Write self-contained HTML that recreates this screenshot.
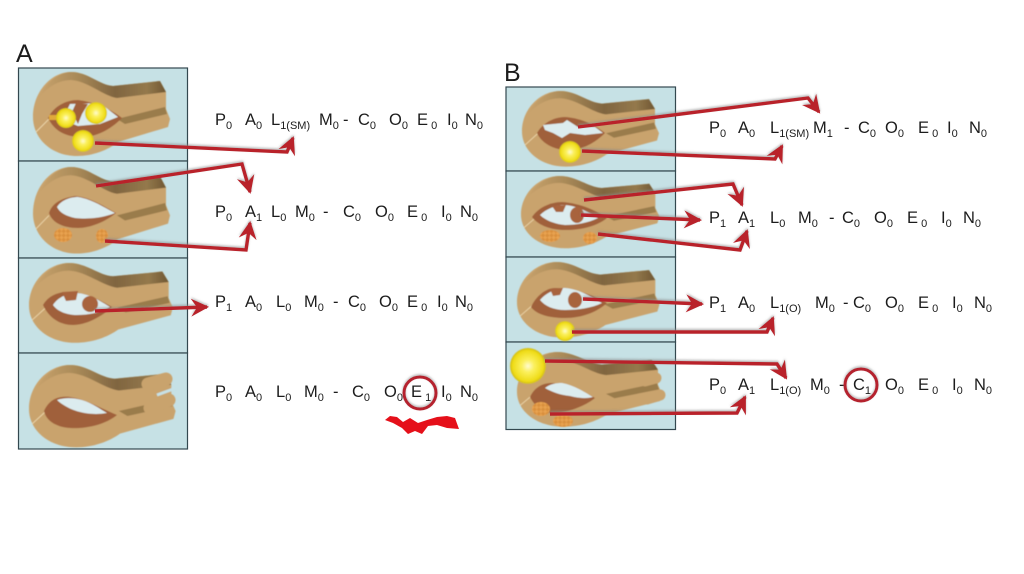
<!DOCTYPE html>
<html><head><meta charset="utf-8"><style>
html,body{margin:0;padding:0;background:#fff}
svg{display:block}
text{font-family:"Liberation Sans",sans-serif;font-size:16.5px;fill:#1c1c1c}
tspan{font-size:11px}
.lb{font-size:25px}
.pn{fill:#c6e1e5;stroke:#33484f;stroke-width:1.2}
.ar{fill:none;stroke:#b9202c;stroke-width:3.4;stroke-linejoin:miter;marker-end:url(#h);filter:url(#sh)}
.br{fill:#a0603a}
.hl{fill:#dcecef}
.lo{fill:#a8643e}
</style></head><body>
<svg width="1024" height="574" viewBox="0 0 1024 574" xmlns="http://www.w3.org/2000/svg">
<defs>
<marker id="h" markerUnits="userSpaceOnUse" markerWidth="24" markerHeight="24" viewBox="-18 -12 24 24" refX="1" refY="0" orient="auto"><path d="M-15,-9 L3,0 L-15,9 L-9,0Z" fill="#b9202c"/></marker>
<filter id="sh" filterUnits="userSpaceOnUse" x="0" y="0" width="1024" height="574"><feDropShadow dx="0" dy="-1.4" stdDeviation="1" flood-color="#8a8a8a" flood-opacity=".6"/></filter>
<filter id="b" filterUnits="userSpaceOnUse" x="0" y="0" width="1024" height="574"><feGaussianBlur stdDeviation=".5"/></filter>
<linearGradient id="w" x1="0" x2="1" y1="0" y2="0"><stop offset="0" stop-color="#c9a36d"/><stop offset=".3" stop-color="#a98a58"/><stop offset=".6" stop-color="#806540"/><stop offset=".85" stop-color="#94794c"/><stop offset="1" stop-color="#6f5733"/></linearGradient>
<radialGradient id="y" cx=".5" cy=".5" r=".5"><stop offset="0" stop-color="#fffbd0"/><stop offset=".35" stop-color="#fbf05c"/><stop offset=".85" stop-color="#efdc18"/><stop offset="1" stop-color="#d0bb1a"/></radialGradient>
<pattern id="o" width="6" height="6" patternUnits="userSpaceOnUse" patternTransform="rotate(45)"><rect width="6" height="6" fill="#e8a24f"/><rect width="3" height="3" fill="#d98f3c"/><rect x="3" y="3" width="3" height="3" fill="#d98f3c"/></pattern>
<g id="jaw">
<path d="M0,45 C0,20 18,0 38,0 C55,0 66,13 80,14 L127,9 L133,20 L133,37 L137,47 L135,55 L85,70 C75,78 60,84 44,84 C18,84 0,66 0,45Z" fill="#c9a36d"/>
<path d="M6,26 C13,9 28,0 38,0 C55,0 66,13 80,14 L127,9 L133,20 L84,26 C70,24 55,9 38,8 C26,8 14,15 6,26Z" fill="url(#w)"/>
<path d="M84,47 L132,35 L134,42 L92,52Z" fill="#9a7c4c"/>
<path d="M3,60 L16,47" stroke="#ecd6aa" stroke-width=".9" fill="none"/>
</g>
</defs>
<rect width="1024" height="574" fill="#fff"/>

<rect class="pn" x="18.500" y="68" width="169" height="93"/>
<rect class="pn" x="18.500" y="161" width="169" height="97"/>
<rect class="pn" x="18.500" y="258" width="169" height="95"/>
<rect class="pn" x="18.500" y="353" width="169" height="96"/>
<rect class="pn" x="506" y="87" width="169.500" height="84"/>
<rect class="pn" x="506" y="171" width="169.500" height="86"/>
<rect class="pn" x="506" y="257" width="169.500" height="85"/>
<rect class="pn" x="506" y="342" width="169.500" height="87.500"/>

<g filter="url(#b)">
<!-- A1 -->
<use href="#jaw" transform="translate(33,72)"/>
<path class="br" d="M48,118 C54,106 66,100 78,100 C95,102 112,110 122,118 C110,130 96,137 82,137 C64,137 54,130 48,118Z"/>
<path class="hl" d="M70,104 L100,103 L118,117 L100,124 L78,126 L62,120Z"/>
<path class="br" d="M76,103 L88,104 L82,114 L78,124 L72,112Z"/>
<rect x="49" y="115" width="10" height="5" fill="#e0a93a"/>
<circle cx="66" cy="118" r="10" fill="url(#y)"/><circle cx="96" cy="113" r="11" fill="url(#y)"/><circle cx="83" cy="141" r="11" fill="url(#y)"/>
<!-- A2 -->
<use href="#jaw" transform="translate(33,167) scale(1,1.03)"/>
<path class="br" d="M49,213 C52,203 62,198 75,196 C90,197 105,207 116,213 C105,222 90,228 78,228 C62,228 52,222 49,213Z"/>
<path class="hl" d="M57,207 C62,199 72,197 78,197 C92,199 105,208 115,213 C100,219 85,219 75,218 C66,216 60,213 57,207Z"/>
<ellipse cx="63" cy="235" rx="9" ry="7" fill="url(#o)"/><ellipse cx="102" cy="236" rx="6" ry="7" fill="url(#o)"/>
<!-- A3 -->
<use href="#jaw" transform="translate(29,263) scale(1.05,.95)"/>
<path class="br" d="M43,305 C48,296 58,292 67,292 C85,292 100,300 112,307 C100,318 85,325 73,325 C58,325 48,316 43,305Z"/>
<path class="hl" d="M53,305 C58,297 68,293 77,293 C90,294 102,302 110,307 C100,313 88,315 77,315 C66,315 57,311 53,305Z"/>
<path class="lo" d="M62,292 L78,291 L76,300 L66,301Z"/><ellipse cx="90" cy="304" rx="8" ry="8" class="lo"/>
<!-- A4 -->
<use href="#jaw" transform="translate(29,365) scale(1.07,.98)"/>
<path class="br" d="M44,411 C50,398 60,396 70,397 C85,399 100,408 117,415 C105,425 85,429 70,428 C55,427 46,420 44,411Z"/>
<path class="hl" d="M57,400 C65,397 75,398 82,400 C92,403 100,409 107,413 C90,416 70,412 57,400Z"/>
<path d="M148,384 L166,379 M150,408 L169,400" stroke="#c9a36d" stroke-width="13" stroke-linecap="round" fill="none"/>
<path d="M157,395 L176,388" stroke="#c6e1e5" stroke-width="3" fill="none"/>
<!-- B1 -->
<use href="#jaw" transform="translate(522,91) scale(1,.9)"/>
<path class="br" d="M537,133 C542,124 553,117 565,117 C582,118 596,126 605,133 C595,143 582,150 568,150 C552,150 541,142 537,133Z"/>
<path class="hl" d="M543,125 L563,123 L567,120 L578,127 L595,127 L603,133 L585,135 L570,133 L562,138 L553,133 L545,130Z"/>
<circle cx="570" cy="152" r="11" fill="url(#y)"/>
<!-- B2 -->
<use href="#jaw" transform="translate(521,176) scale(1.01,.86)"/>
<path class="br" d="M532,217 C538,208 550,202 562,202 C580,203 597,211 607,218 C597,226 582,230 565,230 C550,230 538,225 532,217Z"/>
<path class="hl" d="M540,215 C546,209 556,205 565,205 C578,206 590,213 598,218 C588,223 576,225 565,225 C554,224 545,220 540,215Z"/>
<path class="lo" d="M552,206 L566,205 L563,212 L556,212Z"/><ellipse cx="577" cy="215" rx="7" ry="8" class="lo"/>
<ellipse cx="550" cy="236" rx="10" ry="6" fill="url(#o)"/><ellipse cx="590" cy="238" rx="7" ry="6" fill="url(#o)"/>
<!-- B3 -->
<use href="#jaw" transform="translate(517,262) scale(1.04,.9)"/>
<path class="br" d="M531,307 C536,296 546,288 555,288 C575,288 595,296 607,303 C597,312 582,318 565,318 C550,318 537,315 531,307Z"/>
<path class="hl" d="M540,300 C546,293 556,288 565,288 C580,289 593,298 602,303 C592,308 578,310 565,310 C553,310 545,306 540,300Z"/>
<path class="lo" d="M550,289 L563,288 L560,295 L553,296Z"/><ellipse cx="575" cy="300" rx="7" ry="8" class="lo"/>
<circle cx="565" cy="331" r="10" fill="url(#y)"/>
<!-- B4 -->
<use href="#jaw" transform="translate(517,352) scale(1.06,.89)"/>
<path class="br" d="M530,397 C534,388 542,383 552,383 C568,385 585,392 595,398 C585,406 568,413 552,413 C542,413 534,405 530,397Z"/>
<path class="hl" d="M545,388 C550,384 556,383 562,383 C574,385 586,393 593,397 C585,399 578,398 570,396 C560,395 552,392 545,388Z"/>
<path d="M645,381 L656,378 M647,399 L660,395" stroke="#c9a36d" stroke-width="11" stroke-linecap="round" fill="none"/>
<circle cx="528" cy="366" r="18" fill="url(#y)"/>
<ellipse cx="541" cy="409" rx="9" ry="7" fill="url(#o)"/><ellipse cx="563" cy="421" rx="10" ry="6" fill="url(#o)"/>
</g>

<text class="lb" x="16" y="62">A</text>
<text class="lb" x="504" y="81">B</text>

<text x="215" y="125">P<tspan dy="4">0</tspan></text><text x="245" y="125">A<tspan dy="4">0</tspan></text><text x="271" y="125">L<tspan dy="4">1(SM)</tspan></text><text x="319" y="125">M<tspan dy="4">0</tspan></text><text x="343" y="125">-</text><text x="358" y="125">C<tspan dy="4">0</tspan></text><text x="389" y="125">O<tspan dy="4">0</tspan></text><text x="417" y="125">E<tspan dy="4"> 0</tspan></text><text x="447" y="125">I<tspan dy="4">0</tspan></text><text x="465" y="125">N<tspan dy="4">0</tspan></text>
<text x="215" y="217">P<tspan dy="4">0</tspan></text><text x="245" y="217">A<tspan dy="4">1</tspan></text><text x="271" y="217">L<tspan dy="4">0</tspan></text><text x="295" y="217">M<tspan dy="4">0</tspan></text><text x="323" y="217">-</text><text x="343" y="217">C<tspan dy="4">0</tspan></text><text x="375" y="217">O<tspan dy="4">0</tspan></text><text x="407" y="217">E<tspan dy="4"> 0</tspan></text><text x="441" y="217">I<tspan dy="4">0</tspan></text><text x="460" y="217">N<tspan dy="4">0</tspan></text>
<text x="215" y="307">P<tspan dy="4">1</tspan></text><text x="245" y="307">A<tspan dy="4">0</tspan></text><text x="276" y="307">L<tspan dy="4">0</tspan></text><text x="304" y="307">M<tspan dy="4">0</tspan></text><text x="333" y="307">-</text><text x="348" y="307">C<tspan dy="4">0</tspan></text><text x="379" y="307">O<tspan dy="4">0</tspan></text><text x="407" y="307">E<tspan dy="4"> 0</tspan></text><text x="437" y="307">I<tspan dy="4">0</tspan></text><text x="455" y="307">N<tspan dy="4">0</tspan></text>
<text x="215" y="397">P<tspan dy="4">0</tspan></text><text x="245" y="397">A<tspan dy="4">0</tspan></text><text x="276" y="397">L<tspan dy="4">0</tspan></text><text x="304" y="397">M<tspan dy="4">0</tspan></text><text x="333" y="397">-</text><text x="352" y="397">C<tspan dy="4">0</tspan></text><text x="384" y="397">O<tspan dy="4">0</tspan></text><text x="411" y="397">E<tspan dy="4"> 1</tspan></text><text x="441" y="397">I<tspan dy="4">0</tspan></text><text x="460" y="397">N<tspan dy="4">0</tspan></text>
<text x="709" y="133">P<tspan dy="4">0</tspan></text><text x="738" y="133">A<tspan dy="4">0</tspan></text><text x="770" y="133">L<tspan dy="4">1(SM)</tspan></text><text x="813" y="133">M<tspan dy="4">1</tspan></text><text x="844" y="133">-</text><text x="858" y="133">C<tspan dy="4">0</tspan></text><text x="885" y="133">O<tspan dy="4">0</tspan></text><text x="918" y="133">E<tspan dy="4"> 0</tspan></text><text x="947" y="133">I<tspan dy="4">0</tspan></text><text x="969" y="133">N<tspan dy="4">0</tspan></text>
<text x="709" y="223">P<tspan dy="4">1</tspan></text><text x="738" y="223">A<tspan dy="4">1</tspan></text><text x="770" y="223">L<tspan dy="4">0</tspan></text><text x="798" y="223">M<tspan dy="4">0</tspan></text><text x="829" y="223">-</text><text x="842" y="223">C<tspan dy="4">0</tspan></text><text x="874" y="223">O<tspan dy="4">0</tspan></text><text x="907" y="223">E<tspan dy="4"> 0</tspan></text><text x="941" y="223">I<tspan dy="4">0</tspan></text><text x="963" y="223">N<tspan dy="4">0</tspan></text>
<text x="709" y="308">P<tspan dy="4">1</tspan></text><text x="738" y="308">A<tspan dy="4">0</tspan></text><text x="770" y="308">L<tspan dy="4">1(O)</tspan></text><text x="815" y="308">M<tspan dy="4">0</tspan></text><text x="843" y="308">-</text><text x="853" y="308">C<tspan dy="4">0</tspan></text><text x="885" y="308">O<tspan dy="4">0</tspan></text><text x="918" y="308">E<tspan dy="4"> 0</tspan></text><text x="952" y="308">I<tspan dy="4">0</tspan></text><text x="974" y="308">N<tspan dy="4">0</tspan></text>
<text x="709" y="390">P<tspan dy="4">0</tspan></text><text x="738" y="390">A<tspan dy="4">1</tspan></text><text x="770" y="390">L<tspan dy="4">1(O)</tspan></text><text x="810" y="390">M<tspan dy="4">0</tspan></text><text x="839" y="390">-</text><text x="853" y="390">C<tspan dy="4">1</tspan></text><text x="885" y="390">O<tspan dy="4">0</tspan></text><text x="918" y="390">E<tspan dy="4"> 0</tspan></text><text x="952" y="390">I<tspan dy="4">0</tspan></text><text x="974" y="390">N<tspan dy="4">0</tspan></text>

<polyline class="ar" points="95,143 287,152 293,138"/>
<polyline class="ar" points="96,186 242,164 250,192"/>
<polyline class="ar" points="105,241 246,250 250,223"/>
<polyline class="ar" points="95,311 207,307"/>
<polyline class="ar" points="578,127 808,98 819,112"/>
<polyline class="ar" points="582,151 775,159 782,146"/>
<polyline class="ar" points="584,200 733,184 742,205"/>
<polyline class="ar" points="581,215 700,220"/>
<polyline class="ar" points="598,234 740,250 747,231"/>
<polyline class="ar" points="583,299 702,304"/>
<polyline class="ar" points="572,332 767,332 773,318"/>
<polyline class="ar" points="545,361 777,364 786,378"/>
<polyline class="ar" points="550,414 737,413 745,397"/>

<circle cx="420" cy="393" r="16" fill="none" stroke="#b5212e" stroke-width="3" filter="url(#sh)"/>
<circle cx="861" cy="385" r="16" fill="none" stroke="#b5212e" stroke-width="3" filter="url(#sh)"/>

<path d="M385,420 L390,416 L397,417 L403,422 L410,418 L418,423 L427,420 L437,417 L447,416 L455,418 L459,429 L447,428 L437,425 L428,426 L422,434 L415,431 L408,434 L402,428 L393,423Z" fill="#e5101a"/>
</svg>
</body></html>
